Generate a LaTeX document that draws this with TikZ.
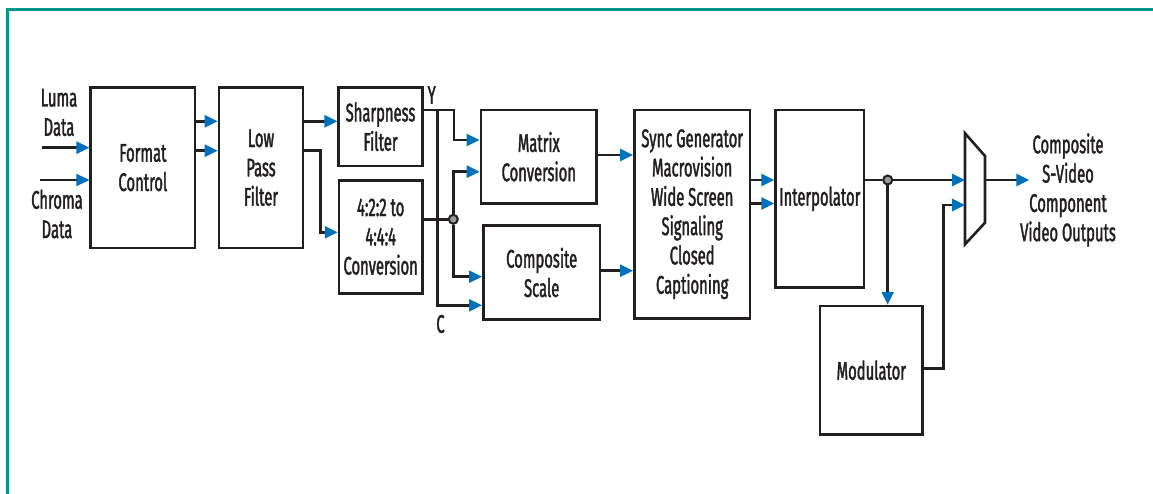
\documentclass[tikz,border=0pt]{standalone}
\usepackage{fontspec}
\setmainfont{Fira Sans}[FakeStretch=0.58, FakeBold=1.5]
\usetikzlibrary{arrows.meta}
\definecolor{linec}{HTML}{231F20}
\definecolor{arrowblue}{HTML}{0072BC}
\definecolor{teal}{HTML}{00968C}
\definecolor{dotgray}{HTML}{9A9A9A}
\begin{document}
\begin{tikzpicture}[x=1pt,y=-1pt,
  every node/.style={text=linec, font=\fontsize{25.5}{29.3}\selectfont},
  blk/.style={draw=linec, line width=2.6pt, inner sep=0pt, align=center, fill=white},
  arr/.style={draw=linec, line width=2.6pt, -{Triangle[length=13pt,width=12pt,color=arrowblue]}},
  wire/.style={draw=linec, line width=2.6pt},
  jdot/.style={circle, draw=linec, line width=2pt, fill=dotgray, minimum size=9pt, inner sep=0pt},
  lbl/.style={align=center, inner sep=0pt}]
\useasboundingbox (0,0) rectangle (1153,494);
% frame
\draw[teal, line width=3.5pt] (5.7,9.5) -- (1153,9.5);
\draw[teal, line width=3.5pt] (7.5,7.75) -- (7.5,494);

% blocks
\node[blk, minimum width=104.3pt, minimum height=160.7pt] (fc) at (142.9,167.7) {Format\\Control};
\node[blk, minimum width=84pt, minimum height=160.7pt] (lpf) at (261,167.7) {Low\\Pass\\Filter};
\node[blk, minimum width=83.6pt, minimum height=78.7pt] (sharp) at (380.5,126.7) {Sharpness\\Filter};
\node[blk, minimum width=83.3pt, minimum height=113pt] (conv) at (380.7,236.8) {4:2:2 to\\4:4:4\\Conversion};
\node[blk, minimum width=115.7pt, minimum height=93.3pt] (matrix) at (538.8,156.7) {Matrix\\Conversion};
\node[blk, minimum width=116.7pt, minimum height=93.6pt] (comp) at (541.7,272.5) {Composite\\Scale};
\node[blk, minimum width=115.7pt, minimum height=208.3pt] (sync) at (692.2,214.2) {Sync Generator\\Macrovision\\Wide Screen\\Signaling\\Closed\\Captioning};
\node[blk, minimum width=88.3pt, minimum height=177.7pt] (interp) at (819.8,198.8) {Interpolator};
\node[blk, minimum width=102.7pt, minimum height=128.3pt] (mod) at (871.3,370.2) {Modulator};

% mux
\coordinate (muxTL) at (965,133.3);
\coordinate (muxTR) at (985,156);
\coordinate (muxBR) at (985,222.7);
\coordinate (muxBL) at (965,244.3);
\coordinate (muxout) at (985,180);
\draw[wire, line join=miter] (muxTL) -- (muxTR) -- (muxBR) -- (muxBL) -- cycle;

% labels
\node[lbl] (luma) at (59,112.5) {Luma\\Data};
\node[lbl] (chroma) at (57,214) {Chroma\\Data};
\node[lbl] (ylab) at (431.7,95) {Y};
\node[lbl] (clab) at (440.5,324) {C};
\node[lbl] (outs) at (1068,190) {Composite\\S-Video\\Component\\Video Outputs};

% inputs
\coordinate (lumaS) at (41.7,147.7);
\coordinate (chromaS) at (40,180);
\draw[arr] (lumaS) -- (lumaS -| fc.west);
\draw[arr] (chromaS) -- (chromaS -| fc.west);

% fc -> lpf
\draw[arr] (fc.east |- 0,121.3) -- (lpf.west |- 0,121.3);
\draw[arr] (fc.east |- 0,150.7) -- (lpf.west |- 0,150.7);
% lpf -> sharp, conv
\draw[arr] (lpf.east |- 0,121.3) -- (sharp.west |- 0,121.3);
\draw[arr] (lpf.east |- 0,150.7) -- (320.7,150.7) |- (conv.west |- 0,232.3);

% Y path
\coordinate (ysplit) at (437.7,110);
\draw[arr] (sharp.east |- 0,110) -- (454,110) |- (matrix.west |- 0,140);
\draw[arr] (ysplit) -- (437.7,305.3) -- (comp.west |- 0,305.3);

% conv output with junction
\node[jdot] (j1) at (453.3,219.3) {};
\draw[wire] (conv.east |- j1) -- (j1);
\draw[arr] (j1) |- (matrix.west |- 0,171.7);
\draw[arr] (j1) |- (comp.west |- 0,276.7);

% to sync
\draw[arr] (matrix.east |- 0,155) -- (sync.west |- 0,155);
\draw[arr] (comp.east |- 0,270.7) -- (sync.west |- 0,270.7);

% sync -> interp
\draw[arr] (sync.east |- 0,180) -- (interp.west |- 0,180);
\draw[arr] (sync.east |- 0,203.5) -- (interp.west |- 0,203.5);

% interp -> mux, modulator
\node[jdot] (j2) at (887.7,180) {};
\draw[wire] (interp.east |- j2) -- (j2);
\draw[arr] (j2) -- (muxTL |- j2);
\draw[arr] (j2) -- (j2 |- mod.north);
\draw[arr] (mod.east |- 0,368.3) -- (943.3,368.3) |- (muxTL |- 0,205);

% output
\coordinate (outend) at (1029.3,180);
\draw[arr] (muxout) -- (outend);
\end{tikzpicture}
\end{document}
